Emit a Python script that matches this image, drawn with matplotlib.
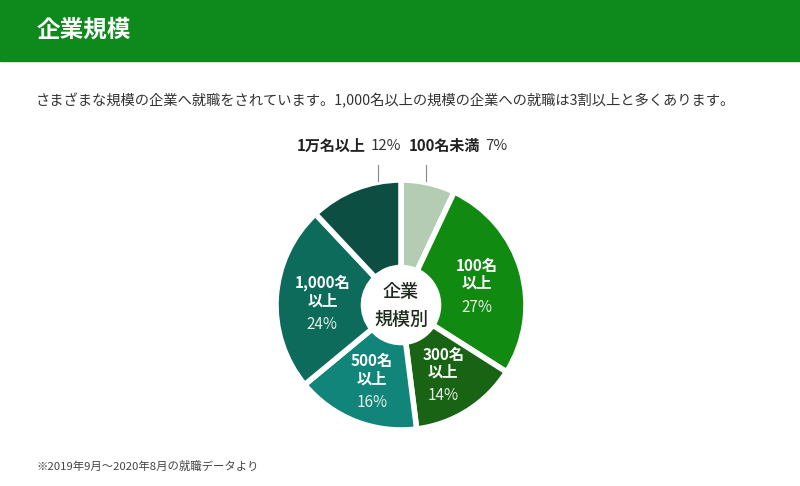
import numpy as np
import matplotlib
matplotlib.use('Agg')
import matplotlib.pyplot as plt
from matplotlib.lines import Line2D
from matplotlib.patches import Rectangle

plt.rcParams['font.family'] = ['Noto Sans CJK JP', 'DejaVu Sans']

# DATA
sizes = ['100名未満', '100名以上', '300名以上', '500名以上', '1,000名以上', '1万名以上']
inner_names = ['', '100名\n以上', '300名\n以上', '500名\n以上', '1,000名\n以上', '']
shares = [7, 27, 14, 16, 24, 12]
colors = ['#b4ccb4', '#118a12', '#196414', '#11857a', '#0c6b5a', '#0d4e42']

title = '企業規模'
lead = 'さまざまな規模の企業へ就職をされています。1,000名以上の規模の企業への就職は3割以上と多くあります。'
note = '※2019年9月〜2020年8月の就職データより'

W, H = 800, 486
fig = plt.figure(figsize=(W / 100, H / 100), dpi=100)


def px(x, y):
    """pixel (from top-left) -> figure fraction"""
    return x / W, 1 - y / H


# header band
fig.add_artist(Rectangle((0, 1 - 61 / H), 1, 61 / H, transform=fig.transFigure,
                         color='#0e8a1c', zorder=0))
fig.text(*px(37, 30), title, color='white', fontsize=17, fontweight='bold',
         ha='left', va='center')
fig.text(*px(36, 101), lead, color='#333333', fontsize=10.3, ha='left', va='center')
fig.text(*px(36, 466), note, color='#444444', fontsize=8.2, ha='left', va='center')

# pie axes, radius 1 = 125 px, centre at (401, 305)
cx, cy, R, half = 401, 305, 125, 132
ax = fig.add_axes([(cx - half) / W, (H - cy - half) / H, 2 * half / W, 2 * half / H])

wedges, _ = ax.pie(shares, colors=colors, startangle=90, counterclock=False,
                   radius=1, wedgeprops=dict(width=0.7, edgecolor='white', linewidth=4.0))

lim = half / R
ax.set_xlim(-lim, lim)
ax.set_ylim(-lim, lim)
ax.set_aspect('equal')
ax.axis('off')

# labels inside the wedges
r_lab = 0.63
for w, name, val in zip(wedges, inner_names, shares):
    if not name:
        continue
    mid = np.deg2rad((w.theta1 + w.theta2) / 2)
    x, y = r_lab * np.cos(mid), r_lab * np.sin(mid)
    l1, l2 = name.split('\n')
    ax.text(x, y + 17 / R, l1, color='white', fontsize=11, fontweight='bold',
            ha='center', va='center')
    ax.text(x, y, l2, color='white', fontsize=11, fontweight='bold',
            ha='center', va='center')
    ax.text(x, y - 24 / R, f'{val}%', color='#e6efe6', fontsize=11,
            ha='center', va='center')

# centre label
ax.text(0, 13 / R, '企業', color='#1e2a1e', fontsize=13, fontweight='medium',
        ha='center', va='center')
ax.text(0, -15 / R, '規模別', color='#1e2a1e', fontsize=13, fontweight='medium',
        ha='center', va='center')

# outside labels with short leader lines
outside = [(5, 366, 378), (0, 480, 426)]
for i, x_end, x_line in outside:
    fig.text(*px(x_end, 146), sizes[i], color='#222222', fontsize=10.8,
             fontweight='bold', ha='right', va='center')
    fig.text(*px(x_end + 5, 146), f'{shares[i]}%', color='#333333', fontsize=10.8,
             ha='left', va='center')
    x0, y0 = px(x_line, 165)
    x1, y1 = px(x_line, 181)
    fig.add_artist(Line2D([x0, x1], [y0, y1], transform=fig.transFigure,
                          color='#888888', linewidth=0.8))

fig.savefig('out.png', dpi=100)
